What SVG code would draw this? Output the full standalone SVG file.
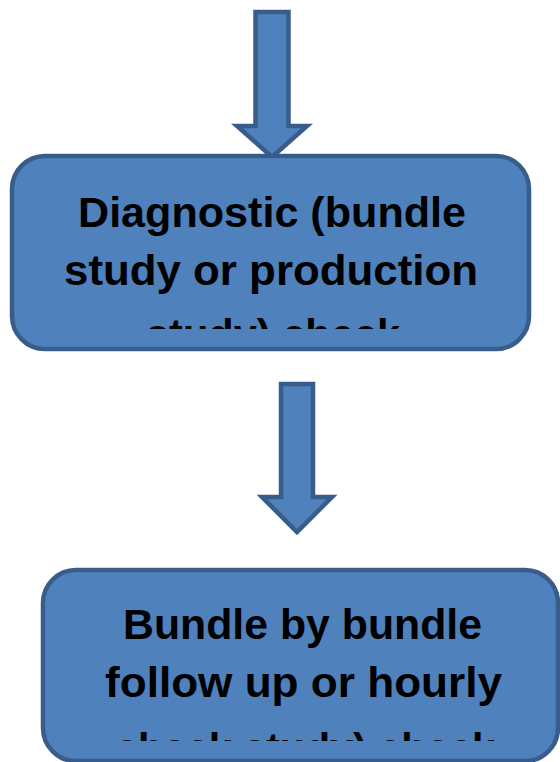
<svg xmlns="http://www.w3.org/2000/svg" width="560" height="762" viewBox="0 0 560 762">
  <defs>
    <style>
      .shape { fill: #4F81BD; stroke: #385D8A; stroke-width: 4.5; stroke-linejoin: miter; }
      .label { font-family: "Liberation Sans", Arial, sans-serif; font-weight: bold; font-size: 42px; fill: #000000; text-anchor: middle; }
    </style>
    <!-- text areas are cut off near the bottom of each box -->
    <clipPath id="clip-diag">
      <rect x="0" y="150" width="560" height="179"/>
    </clipPath>
    <clipPath id="clip-bundle">
      <rect x="0" y="560" width="560" height="181"/>
    </clipPath>
  </defs>

  <rect width="560" height="762" fill="#FFFFFF"/>

  <g id="connectors">
    <polygon class="shape" points="255.5,12 288.5,12 288.5,126 307,126 272,157 237,126 255.5,126"/>
    <polygon class="shape" points="281,384 313,384 313,497 332,497 297,532 262,497 281,497"/>
  </g>

  <g id="node-diagnostic">
    <rect class="shape" x="12" y="156" width="517" height="193" rx="33" ry="33"/>
    <g clip-path="url(#clip-diag)">
      <text class="label" x="272" y="227" textLength="388" lengthAdjust="spacingAndGlyphs">Diagnostic (bundle</text>
      <text class="label" x="271" y="285" textLength="414" lengthAdjust="spacingAndGlyphs">study or production</text>
      <text class="label" x="273" y="349" textLength="254" lengthAdjust="spacingAndGlyphs">study) check</text>
    </g>
  </g>

  <g id="node-bundle">
    <rect class="shape" x="43" y="570" width="515" height="191" rx="33" ry="33"/>
    <g clip-path="url(#clip-bundle)">
      <text class="label" x="302.5" y="639" textLength="359" lengthAdjust="spacingAndGlyphs">Bundle by bundle</text>
      <text class="label" x="303.5" y="697" textLength="397" lengthAdjust="spacingAndGlyphs">follow up or hourly</text>
      <text class="label" x="305" y="763" textLength="380" lengthAdjust="spacingAndGlyphs">check study) check</text>
    </g>
  </g>
</svg>
